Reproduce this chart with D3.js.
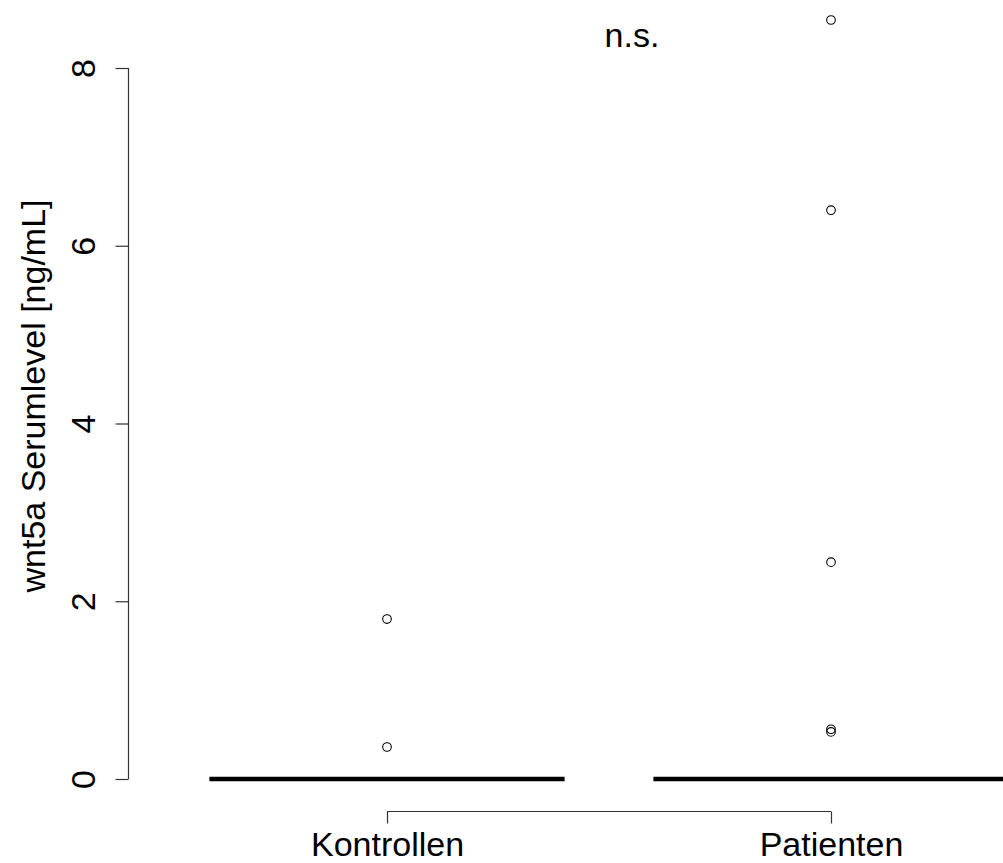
<!DOCTYPE html>
<html><head><meta charset="utf-8">
<script src="https://cdn.jsdelivr.net/npm/d3@7"></script>
<style>body{margin:0;background:#fff}svg{display:block}text{font-family:"Liberation Sans",Arial,sans-serif}</style>
</head><body>
<script>
const categories = ["Kontrollen", "Patienten"];
// five-number summaries (all collapsed at 0)
const q1 = [0, 0];
const median = [0, 0];
const q3 = [0, 0];
const whiskerLow = [0, 0];
const whiskerHigh = [0, 0];
const outliersKontrollen = [1.80, 0.36];
const outliersPatienten = [8.54, 6.40, 2.44, 0.56, 0.53];
const yTicks = [0, 2, 4, 6, 8];
const yLabel = "wnt5a Serumlevel [ng/mL]";
const sigLabel = "n.s.";

const W = 1003, H = 863;
const svg = d3.select("body").append("svg").attr("width", W).attr("height", H);

const x = d3.scaleLinear().domain([0.5, 2.5]).range([165, 1053]);
const y = d3.scaleLinear().domain([0, 8]).range([779, 68]);
const halfW = 0.4;

const outliers = [outliersKontrollen, outliersPatienten];

const g = svg.append("g");
categories.forEach((c, i) => {
  const cx = i + 1;
  g.append("rect").attr("x", x(cx - halfW)).attr("width", x(cx + halfW) - x(cx - halfW))
    .attr("y", y(q3[i])).attr("height", y(q1[i]) - y(q3[i]))
    .attr("fill", "none").attr("stroke", "#000").attr("stroke-width", 1);
  g.append("line").attr("x1", x(cx)).attr("x2", x(cx)).attr("y1", y(q3[i])).attr("y2", y(whiskerHigh[i]))
    .attr("stroke", "#000").attr("stroke-dasharray", "4,4");
  g.append("line").attr("x1", x(cx)).attr("x2", x(cx)).attr("y1", y(q1[i])).attr("y2", y(whiskerLow[i]))
    .attr("stroke", "#000").attr("stroke-dasharray", "4,4");
  g.append("line").attr("x1", x(cx - halfW)).attr("x2", x(cx + halfW))
    .attr("y1", y(median[i])).attr("y2", y(median[i]))
    .attr("stroke", "#000").attr("stroke-width", 4.5);
  g.selectAll(null).data(outliers[i]).enter().append("circle")
    .attr("cx", x(cx)).attr("cy", d => y(d)).attr("r", 4.3)
    .attr("fill", "none").attr("stroke", "#000").attr("stroke-width", 1.1);
});

// y axis
const ya = svg.append("g").attr("transform", "translate(128.5,0)")
  .call(d3.axisLeft(y).tickValues(yTicks).tickSize(13).tickPadding(18).tickFormat(d3.format("d")));
ya.selectAll(".domain").attr("d", `M0,${y(0)}V${y(8)}`).attr("stroke", "#333").attr("stroke-width", 1.2);
ya.selectAll(".tick line").attr("stroke", "#333").attr("stroke-width", 1.2);
ya.selectAll(".tick text").attr("font-size", 34).attr("fill", "#000")
  .attr("text-anchor", "middle").attr("dy", null).attr("x", null)
  .attr("transform", "translate(-46,0) rotate(-90)").attr("dominant-baseline", "central");

// x axis
const xa = svg.append("g").attr("transform", "translate(0,811.5)")
  .call(d3.axisBottom(x).tickValues([1, 2]).tickSize(12).tickPadding(8).tickFormat((d, i) => categories[i]));
xa.select(".domain").attr("d", `M${x(1)},0H${x(2)}`).attr("stroke", "#333").attr("stroke-width", 1.2);
xa.selectAll(".tick line").attr("stroke", "#333").attr("stroke-width", 1.2);
xa.selectAll(".tick text").attr("font-size", 34).attr("fill", "#000").attr("dy", "0.71em");

// y label
svg.append("text").attr("transform", `translate(33,396) rotate(-90)`)
  .attr("text-anchor", "middle").attr("dominant-baseline", "central")
  .attr("font-size", 34).text(yLabel);

// significance
svg.append("text").attr("x", 632).attr("y", 47).attr("text-anchor", "middle")
  .attr("font-size", 34).text(sigLabel);
</script>
</body></html>
